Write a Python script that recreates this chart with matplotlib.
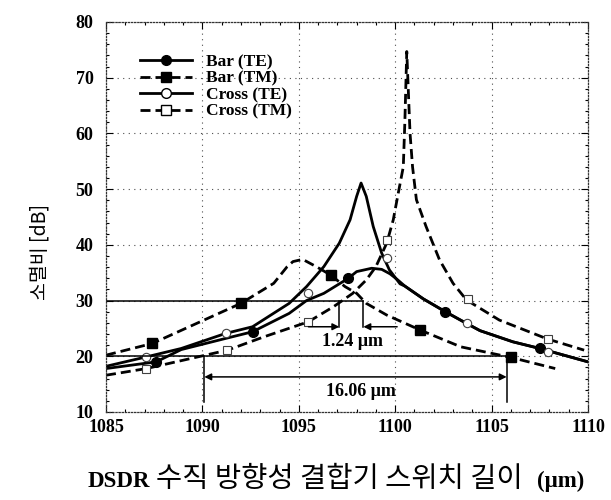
import numpy as np
import matplotlib
matplotlib.use('Agg')
import matplotlib.pyplot as plt
from matplotlib.lines import Line2D
from matplotlib.ticker import MultipleLocator

plt.rcParams['font.family'] = ['Liberation Serif', 'DejaVu Serif']
plt.rcParams['font.weight'] = 'bold'
plt.rcParams['mathtext.default'] = 'regular'

# 곡선
cross_te_x = [1085, 1087.1, 1088.9, 1091.2, 1092.6, 1094.5, 1095.4, 1096.3, 1097.1, 1097.66,
              1098.0, 1098.23, 1098.5, 1098.86, 1099.3, 1099.7, 1100.25, 1100.5, 1101.46,
              1102.6, 1103.7, 1104.4, 1106.1, 1107.5, 1110]
cross_te_y = [18.2, 19.9, 21.4, 24.1, 25.3, 29.5, 32.5, 36.1, 40.3, 44.5,
              48.7, 51.1, 48.7, 43.3, 38.5, 35.5, 33.0, 32.6, 30.3,
              28.0, 25.9, 24.6, 22.6, 21.4, 19.0]

bar_te_x = [1085, 1087.6, 1088.9, 1091.2, 1092.6, 1094.5, 1095.4, 1096.3, 1097.57, 1098.0,
            1098.78, 1099.3, 1099.73, 1100.1, 1100.5, 1101.46, 1102.6, 1103.7, 1104.4,
            1106.1, 1107.5, 1110]
bar_te_y = [17.8, 19.0, 21.2, 23.2, 24.4, 27.7, 30.0, 31.3, 34.0, 35.2,
            35.8, 35.6, 34.8, 33.8, 32.6, 30.3, 28.0, 25.9, 24.6,
            22.6, 21.4, 19.0]

bar_tm_x = [1085, 1087.4, 1089.7, 1092.0, 1093.7, 1094.4, 1094.7, 1095.2, 1095.9, 1096.65,
            1097.4, 1098.0, 1098.5, 1099.56, 1101.3, 1103.4, 1106.0, 1108.3]
bar_tm_y = [20.2, 22.3, 25.9, 29.5, 33.1, 36.1, 37.0, 37.4, 36.1, 34.6,
            32.5, 31.3, 29.5, 27.4, 24.7, 21.7, 19.8, 17.8]

cross_tm_x = [1085, 1087.1, 1091.3, 1093.2, 1095.5, 1096.8, 1097.8, 1098.5, 1099.0, 1099.56,
              1099.9, 1100.16, 1100.42, 1100.5, 1100.6, 1100.7, 1100.77, 1100.9, 1101.1,
              1101.6, 1102.3, 1103.0, 1103.7, 1105.4, 1107.9, 1109.8]
cross_tm_y = [16.6, 17.8, 21.1, 23.5, 26.2, 28.9, 31.3, 33.7, 36.1, 40.3,
              44.5, 49.3, 54.0, 62.0, 74.7, 66.0, 60.0, 54.0, 48.1,
              43.3, 37.3, 33.1, 30.1, 26.5, 23.1, 21.1]

# 마커 위치
bar_te_mx = [1087.6, 1092.6, 1097.57, 1102.6, 1107.5]
bar_te_my = [19.0, 24.4, 34.0, 28.0, 21.4]
bar_tm_mx = [1087.4, 1092.0, 1096.65, 1101.3, 1106.0]
bar_tm_my = [22.3, 29.5, 34.6, 24.7, 19.8]
cross_te_mx = [1087.1, 1091.2, 1095.5, 1099.56, 1103.7, 1107.9]
cross_te_my = [19.9, 24.1, 31.4, 37.6, 25.9, 20.7]
cross_tm_mx = [1087.1, 1091.3, 1095.5, 1099.6, 1103.8, 1107.9]
cross_tm_my = [17.8, 21.1, 26.2, 40.9, 30.3, 23.1]

labels = ['Bar (TE)', 'Bar (TM)', 'Cross (TE)', 'Cross (TM)']

# 표시선
level_30, level_20 = 30, 20
gap_small = (1097.1, 1098.35)
gap_large = (1090.1, 1105.78)

fig = plt.figure(figsize=(6.11, 5.0), dpi=100)
ax = fig.add_axes([106/611, 1-412/500, 482/611, 390/500])

dash = (3.6, 1.8)
ax.plot(bar_te_x, bar_te_y, color='k', lw=2.0)
ax.plot(cross_te_x, cross_te_y, color='k', lw=2.0)
ax.plot(bar_tm_x, bar_tm_y, color='k', lw=2.0, dashes=dash)
ax.plot(cross_tm_x, cross_tm_y, color='k', lw=2.0, dashes=dash)

ax.plot(bar_te_mx, bar_te_my, 'o', color='k', ms=7, ls='none')
ax.plot(bar_tm_mx, bar_tm_my, 's', color='k', ms=7, ls='none')
ax.plot(cross_te_mx, cross_te_my, 'o', mfc='white', mec='0.25', mew=0.8, ms=6, ls='none')
ax.plot(cross_tm_mx, cross_tm_my, 's', mfc='white', mec='0.25', mew=0.8, ms=6, ls='none')

# 1.24 um 표시
ax.plot([1085, gap_small[1]], [level_30, level_30], color='k', lw=1.1)
for gx in gap_small:
    ax.plot([gx, gx], [level_30, 25.3], color='k', lw=1.1)
ap = dict(arrowstyle='-|>', color='k', lw=1.1, mutation_scale=10, shrinkA=0, shrinkB=0)
ax.annotate('', xy=(gap_small[0], 25.3), xytext=(1095.5, 25.3), arrowprops=ap)
ax.annotate('', xy=(gap_small[1], 25.3), xytext=(1100.1, 25.3), arrowprops=ap)
ax.text(1097.8, 22.6, '1.24 μm', ha='center', va='center', fontsize=13)

# 16.06 um 표시
ax.plot([1085, gap_large[1]], [level_20, level_20], color='k', lw=1.1)
for gx in gap_large:
    ax.plot([gx, gx], [level_20, 11.8], color='k', lw=1.1)
ap2 = dict(arrowstyle='<|-|>', color='k', lw=1.1, mutation_scale=10, shrinkA=0, shrinkB=0)
ax.annotate('', xy=(gap_large[0], 16.3), xytext=(gap_large[1], 16.3), arrowprops=ap2)
ax.text(1098.2, 13.6, '16.06 μm', ha='center', va='center', fontsize=13)

ax.set_xlim(1085, 1110)
ax.set_ylim(10, 80)
ax.set_xticks(np.arange(1085, 1111, 5))
ax.set_yticks(np.arange(10, 81, 10))
ax.xaxis.set_minor_locator(MultipleLocator(1))
ax.yaxis.set_minor_locator(MultipleLocator(2))
ax.tick_params(which='both', direction='in', top=True, right=True, width=0.8, labelsize=13)
ax.tick_params(which='major', length=5)
ax.tick_params(which='minor', length=2.5)
ax.tick_params(axis='y', pad=9)
ax.tick_params(axis='x', pad=5)
ax.grid(True, which='major', color='0.3', lw=0.8, ls=(0, (1, 4)))
for sp in ax.spines.values():
    sp.set_linestyle((0, (1, 1.5)))
    sp.set_linewidth(0.9)
    sp.set_color('0.2')

handles = [
    Line2D([], [], color='k', lw=2, marker='o', ms=7),
    Line2D([], [], color='k', lw=2, dashes=dash, marker='s', ms=7),
    Line2D([], [], color='k', lw=2, marker='o', ms=7, mfc='white'),
    Line2D([], [], color='k', lw=2, dashes=dash, marker='s', ms=7, mfc='white'),
]
ax.legend(handles, labels, loc='upper left', bbox_to_anchor=(0.0705, 0.918), frameon=False,
          borderpad=0, borderaxespad=0, handlelength=3.0, handletextpad=0.8,
          labelspacing=0.02, prop={'family': 'Liberation Serif', 'weight': 'bold', 'size': 12.5})

# 축 제목
fig.text(40/611, 1-252/500, '소멸비 [dB]', rotation=90, ha='center', va='center',
         family='Noto Sans CJK KR', weight='normal', fontsize=14)
base_y = 1-487/500
fig.text(88/611, base_y, 'DSDR', ha='left', va='baseline', fontsize=16.5)
fig.text(156/611, base_y, '수직 방향성 결합기 스위치 길이', ha='left', va='baseline',
         family='Noto Sans CJK KR', weight='normal', fontsize=20.5)
fig.text(537/611, base_y, '(μm)', ha='left', va='baseline', fontsize=16.5)

fig.savefig('out.png', dpi=100)
plt.close(fig)
